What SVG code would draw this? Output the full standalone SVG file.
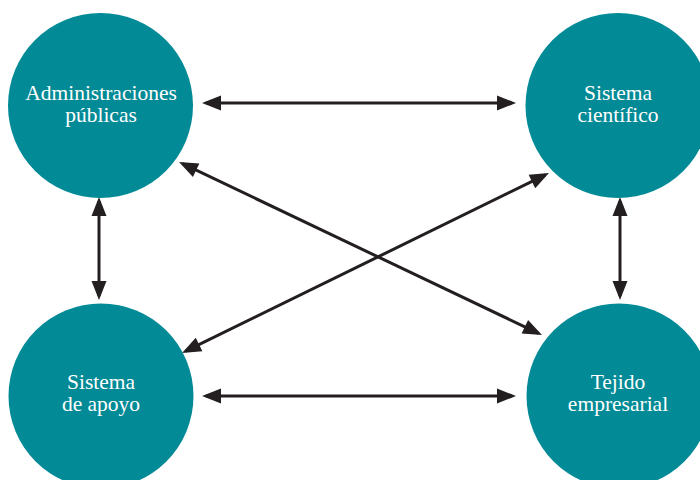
<svg xmlns="http://www.w3.org/2000/svg" width="700" height="480" viewBox="0 0 700 480">
<style>
.node{fill:#028a96}
.lbl{fill:#ffffff;font-family:"Liberation Serif","DejaVu Serif",serif;font-size:21.5px;text-anchor:middle}
.con{stroke:#231f20;stroke-width:3;fill:none;marker-start:url(#ah);marker-end:url(#ah)}
</style>
<defs>
<marker id="ah" markerUnits="userSpaceOnUse" markerWidth="19" markerHeight="15" refX="15" refY="7.5" orient="auto-start-reverse" overflow="visible">
<path d="M0,0 L19,7.5 L0,15 Z" fill="#231f20"/>
</marker>
</defs>
<rect width="700" height="480" fill="#ffffff"/>
<g id="connectors">
<line class="con" x1="206" y1="103" x2="512" y2="103"/>
<line class="con" x1="206" y1="396" x2="512" y2="396"/>
<line class="con" x1="99" y1="201" x2="99" y2="296"/>
<line class="con" x1="620" y1="201" x2="620" y2="296"/>
<line class="con" x1="182.6" y1="163.7" x2="538.4" y2="333.3"/>
<line class="con" x1="545.4" y1="174.8" x2="185.6" y2="351.2"/>
</g>
<g id="administraciones">
<circle class="node" cx="100.5" cy="105.5" r="92.5"/>
<text class="lbl" x="101" y="100">Administraciones</text>
<text class="lbl" x="101" y="122">públicas</text>
</g>
<g id="cientifico">
<circle class="node" cx="618" cy="105.5" r="92.5"/>
<text class="lbl" x="618" y="100">Sistema</text>
<text class="lbl" x="618" y="122">científico</text>
</g>
<g id="apoyo">
<circle class="node" cx="101" cy="396" r="92.5"/>
<text class="lbl" x="101" y="389">Sistema</text>
<text class="lbl" x="101" y="411">de apoyo</text>
</g>
<g id="empresarial">
<circle class="node" cx="619" cy="396" r="92.5"/>
<text class="lbl" x="618" y="389">Tejido</text>
<text class="lbl" x="618" y="411">empresarial</text>
</g>
</svg>
